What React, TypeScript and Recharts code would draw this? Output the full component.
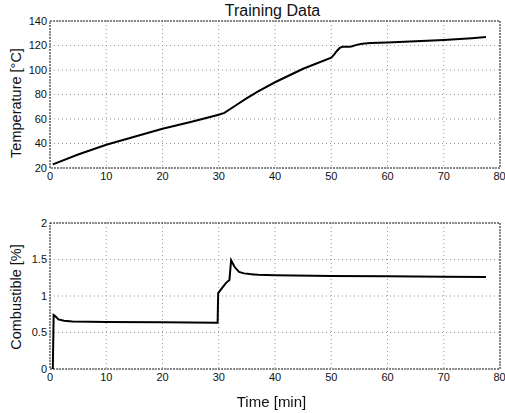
import { Label, Line, LineChart, CartesianGrid, ReferenceArea, XAxis, YAxis } from "recharts";

// Temperature trace (top panel)
const tempTime = [0.5, 5, 10, 15, 20, 25, 30, 31, 33, 35, 37, 40, 45, 50, 50.5, 51, 51.5, 52, 53, 53.6, 54.5, 55.5, 57, 60, 65, 70, 75, 77.5];
const tempValue = [23, 31, 39, 45.5, 52, 57.5, 63.5, 65, 71, 77, 82.5, 90, 101, 110, 112.5, 115.5, 118, 119, 119, 119.2, 120.5, 121.5, 122, 122.5, 123.5, 124.5, 126, 127];

// Combustible trace (bottom panel)
const combTime = [0.5, 0.65, 1.0, 1.5, 2.5, 4, 10, 20, 29.8, 29.9, 30.5, 31.3, 31.9, 32.2, 32.8, 33.6, 34.5, 35.5, 37, 40, 50, 60, 70, 77.5];
const combValue = [0, 0.74, 0.72, 0.68, 0.66, 0.65, 0.645, 0.64, 0.635, 1.04, 1.1, 1.18, 1.22, 1.49, 1.4, 1.33, 1.31, 1.3, 1.29, 1.285, 1.275, 1.27, 1.265, 1.26];

const timeTicks = [0, 10, 20, 30, 40, 50, 60, 70, 80];
const tempTicks = [20, 40, 60, 80, 100, 120, 140];
const combTicks = [0, 0.5, 1, 1.5, 2];

const tempData = tempTime.map((t, i) => ({ t, v: tempValue[i] }));
const combData = combTime.map((t, i) => ({ t, v: combValue[i] }));

const FONT = "'Liberation Sans', Arial, sans-serif";
const tick = { fill: "#111", fontSize: 11, fontFamily: FONT };

function yLabel(text: string, cy: number) {
  return () => (
    <text
      x={16}
      y={cy}
      transform={`rotate(-90, 16, ${cy})`}
      textAnchor="middle"
      dominantBaseline="central"
      fontSize={14.5}
      fontFamily={FONT}
      fill="#111"
    >
      {text}
    </text>
  );
}

export default function App() {
  return (
    <div style={{ position: "fixed", left: 0, top: 0, width: 505, height: 413, background: "#fff", fontFamily: FONT }}>
      <div style={{ position: "absolute", left: 0, width: 545, top: 2, textAlign: "center", fontSize: 16, color: "#111" }}>
        Training Data
      </div>

      <div style={{ position: "absolute", left: 0, top: 0 }}>
        <LineChart width={505} height={195} data={tempData} margin={{ top: 21, right: 5, left: 0, bottom: 7 }}>
          <CartesianGrid stroke="#999" strokeDasharray="1 3" horizontalValues={tempTicks} verticalValues={timeTicks} />
          <XAxis dataKey="t" type="number" domain={[0, 80]} ticks={timeTicks} height={20} tickSize={0} tickMargin={4} axisLine={false} tick={tick} allowDataOverflow />
          <YAxis type="number" domain={[20, 140]} ticks={tempTicks} width={50} tickSize={0} tickMargin={3} axisLine={false} tick={tick} allowDataOverflow>
            <Label content={yLabel("Temperature [°C]", 103)} />
          </YAxis>
          <ReferenceArea x1={0} x2={80} y1={20} y2={140} fill="none" stroke="#222" strokeDasharray="2 1" />
          <Line dataKey="v" type="linear" stroke="#000" strokeWidth={2} dot={false} isAnimationActive={false} />
        </LineChart>
      </div>

      <div style={{ position: "absolute", left: 0, top: 200 }}>
        <LineChart width={505} height={213} data={combData} margin={{ top: 23, right: 5, left: 0, bottom: 24 }}>
          <CartesianGrid stroke="#999" strokeDasharray="1 3" horizontalValues={combTicks} verticalValues={timeTicks} />
          <XAxis dataKey="t" type="number" domain={[0, 80]} ticks={timeTicks} height={20} tickSize={0} tickMargin={4} axisLine={false} tick={tick} allowDataOverflow />
          <YAxis type="number" domain={[0, 2]} ticks={combTicks} width={50} tickSize={0} tickMargin={3} axisLine={false} tick={tick} allowDataOverflow>
            <Label content={yLabel("Combustible [%]", 97)} />
          </YAxis>
          <ReferenceArea x1={0} x2={80} y1={0} y2={2} fill="none" stroke="#222" strokeDasharray="2 1" />
          <Line dataKey="v" type="linear" stroke="#000" strokeWidth={2} dot={false} isAnimationActive={false} />
        </LineChart>
      </div>

      <div style={{ position: "absolute", left: 0, width: 543, top: 393, textAlign: "center", fontSize: 15, color: "#111" }}>
        Time [min]
      </div>
    </div>
  );
}
